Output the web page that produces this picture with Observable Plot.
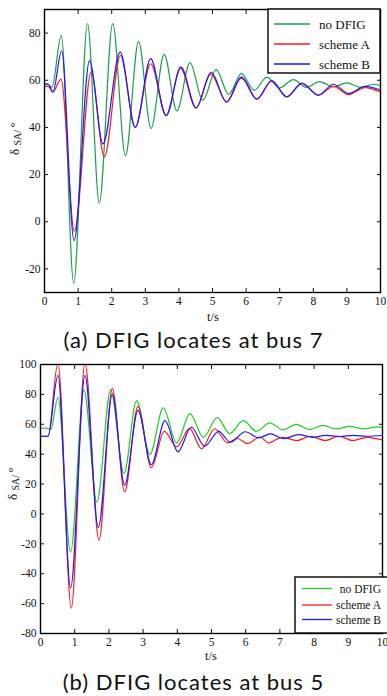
<!DOCTYPE html>
<html><head><meta charset="utf-8">
<script src="https://cdn.jsdelivr.net/npm/d3@7"></script>
<script src="https://cdn.jsdelivr.net/npm/@observablehq/plot@0.6"></script>
<style>
body{margin:0;background:#fff;width:387px;height:696px;overflow:hidden;position:relative}
.chart{position:absolute;left:0}
.cap{position:absolute;left:0;width:387px;text-align:center;font-family:Lato,"Open Sans",sans-serif;font-size:22px;letter-spacing:1px;line-height:26px;color:#111;white-space:nowrap}
</style></head><body>
<div id="a" class="chart" style="top:0"></div>
<div id="capA" class="cap" style="top:327px"></div>
<div id="b" class="chart" style="top:355px"></div>
<div id="capB" class="cap" style="top:669px"></div>
<script>
// ---- labels ----
const seriesNames = ["no DFIG", "scheme A", "scheme B"];
const captionA = "(a) DFIG locates at bus 7";
const captionB = "(b) DFIG locates at bus 5";
const xLabel = "t/s";
const xTicks = [0,1,2,3,4,5,6,7,8,9,10];
const yTicksA = [-20,0,20,40,60,80];
const yTicksB = [-80,-60,-40,-20,0,20,40,60,80,100];

// ---- (a) DFIG at bus 7 ----
const tGreenA = [0,0.12,0.22,0.5,0.87,1.28,1.63,2.03,2.41,2.8,3.17,3.56,3.94,4.33,4.71,5.11,5.48,5.86,6.24,6.62,6.99,7.41,7.79,8.18,8.6,9.0,9.4,9.8,10];
const greenA  = [58.5,58.2,57,79,-26,84,8,84,28,76.5,39.5,71,47,67.5,51.5,64.5,54,62.8,55.7,61.3,56.7,60.3,57,59.4,57.2,58.9,57,58.3,57.8];
const tRedA = [0,0.12,0.25,0.49,0.89,1.39,1.78,2.26,2.7,3.16,3.62,4.05,4.51,4.95,5.42,5.86,6.32,6.76,7.21,7.66,8.15,8.6,9.05,9.54,10];
const redA  = [57.5,57.3,55,60.5,-4,63.5,27.5,70.5,40,67,45,65,48.2,62.6,50.8,60.9,52,59.6,52.9,58.6,53.6,57.4,53.9,56.9,55];
const tBlueA = [0,0.12,0.25,0.51,0.88,1.34,1.74,2.25,2.7,3.16,3.62,4.06,4.51,4.96,5.42,5.86,6.32,6.76,7.21,7.66,8.15,8.6,9.05,9.54,10];
const blueA  = [58.5,58.2,55,72.5,-8,68.3,33,72,40,69.2,45,65.7,48.3,63.3,50.7,61.4,52,59.9,53,58.8,53.7,58.3,54.4,57.4,55.8];

// ---- (b) DFIG at bus 5 ----
const tGreenB = [0,0.2,0.3,0.51,0.88,1.27,1.65,2.05,2.44,2.81,3.2,3.59,3.98,4.37,4.76,5.17,5.53,5.93,6.31,6.7,7.09,7.48,7.87,8.26,8.65,9.04,9.45,9.85,10];
const greenB  = [57.5,57.3,56.5,78,-25.5,83,8,83,27,75.8,39.8,71,47.6,67.1,51.3,64.4,53.8,62.4,55.3,60.9,56.3,60,56.4,59.2,56.9,58.6,56.9,58.2,57.8];
const tRedB = [0,0.22,0.51,0.9,1.3,1.71,2.1,2.46,2.85,3.24,3.62,3.98,4.36,4.71,5.09,5.46,5.75,6.05,6.42,6.67,7.06,7.5,7.89,8.33,8.72,9.13,9.55,10];
const redB  = [52,52,101,-63,101,-17.5,84,14.7,72,31,55.3,45,57.1,43.6,57,47.6,50.5,47,51.5,47.6,51.3,49.1,52,49.1,52,49.1,51.3,49.5];
const tBlueB = [0,0.22,0.51,0.88,1.3,1.69,2.1,2.46,2.85,3.24,3.64,4.02,4.41,4.8,5.21,5.55,5.99,6.38,6.72,7.11,7.55,7.95,8.35,8.75,9.15,9.55,10];
const blueB  = [52,52,92.7,-49.5,92.7,-9,80,19.3,69.3,33,62.4,41.6,58,45.3,55.3,48,55,50.9,53.6,50.4,53.1,51.3,52.6,51.8,52.6,52,52.5];

const zip = (ts, vs) => ts.map((t, i) => ({t, v: vs[i]}));

function drawChart(cfg) {
  const serif = "'Liberation Serif','Times New Roman',serif";
  const lines = cfg.series.map((s, i) =>
    Plot.line(zip(s.t, s.v), {x: "t", y: "v", stroke: cfg.colors[i], strokeWidth: 1.2, curve: "monotone-x", clip: true}));
  const svg = Plot.plot({
    width: 387, height: cfg.height,
    marginLeft: cfg.ml, marginRight: cfg.mr, marginTop: cfg.mt, marginBottom: cfg.mb,
    x: {domain: [0, 10]},
    y: {domain: cfg.yDomain},
    style: {fontFamily: serif, fontSize: "11.5px", background: "transparent", overflow: "visible", color: "#111"},
    marks: [
      ...lines,
      Plot.axisX({ticks: xTicks, anchor: "bottom", tickSize: 0, tickPadding: 4, label: null, tickFormat: d => String(d)}),
      Plot.axisX({ticks: xTicks, anchor: "bottom", tickSize: -4, tickPadding: 0, label: null, tickFormat: () => ""}),
      Plot.axisX({ticks: xTicks, anchor: "top", tickSize: -4, tickPadding: 0, label: null, tickFormat: () => ""}),
      Plot.axisY({ticks: cfg.yTicks, anchor: "left", tickSize: 0, tickPadding: 4, label: null, tickFormat: d => String(d)}),
      Plot.axisY({ticks: cfg.yTicks, anchor: "left", tickSize: -4, tickPadding: 0, label: null, tickFormat: () => ""}),
      Plot.axisY({ticks: cfg.yTicks, anchor: "right", tickSize: -4, tickPadding: 0, label: null, tickFormat: () => ""}),
      Plot.frame({stroke: "#000", strokeWidth: 1.4})
    ]
  });
  const g = d3.select(svg).append("g").attr("font-family", serif).attr("fill", "#111");
  // x label
  g.append("text").attr("x", cfg.xLabelX).attr("y", cfg.xLabelY).attr("text-anchor", "middle").attr("font-size", 12.5).text(xLabel);
  // y label
  const yl = g.append("text").attr("transform", `translate(${cfg.yLabelX},${cfg.yLabelY}) rotate(-90)`).attr("text-anchor", "start").attr("font-size", 13);
  yl.append("tspan").text("δ ");
  yl.append("tspan").attr("font-size", 10).attr("dy", 2).text("SA");
  yl.append("tspan").attr("font-size", 10).text("/ ");
  yl.append("tspan").attr("dy", -2).text("°");
  // legend
  const L = cfg.legend;
  const lg = d3.select(svg).append("g");
  lg.append("rect").attr("x", L.x).attr("y", L.y).attr("width", L.w).attr("height", L.h)
    .attr("fill", "#fff").attr("stroke", "#000").attr("stroke-width", 1.4);
  seriesNames.forEach((name, i) => {
    const yy = L.rows[i];
    lg.append("line").attr("x1", L.lx1).attr("x2", L.lx2).attr("y1", yy).attr("y2", yy)
      .attr("stroke", cfg.colors[i]).attr("stroke-width", 1.3);
    lg.append("text").attr("x", L.tx).attr("y", yy).attr("dy", "0.35em").attr("text-anchor", L.anchor)
      .attr("font-family", serif).attr("font-size", L.fs).attr("fill", "#111").text(name);
  });
  document.getElementById(cfg.id).appendChild(svg);
}

drawChart({
  id: "a", height: 325, ml: 44, mr: 7, mt: 9, mb: 33, yDomain: [-30, 90], yTicks: yTicksA,
  colors: ["#1f9e4a", "#ff1a1a", "#1a1aff"],
  series: [{t: tGreenA, v: greenA}, {t: tRedA, v: redA}, {t: tBlueA, v: blueA}],
  xLabelX: 213, xLabelY: 320.5, yLabelX: 19, yLabelY: 155,
  legend: {x: 268, y: 9, w: 112, h: 64, rows: [24, 44, 64], lx1: 274, lx2: 310, tx: 319, anchor: "start", fs: 13}
});
drawChart({
  id: "b", height: 310, ml: 40, mr: 5, mt: 9, mb: 32, yDomain: [-80, 100], yTicks: yTicksB,
  colors: ["#22cc22", "#ff1a1a", "#1a1aff"],
  series: [{t: tGreenB, v: greenB}, {t: tRedB, v: redB}, {t: tBlueB, v: blueB}],
  xLabelX: 211, xLabelY: 304.5, yLabelX: 17, yLabelY: 145,
  legend: {x: 295, y: 222, w: 95, h: 56, rows: [233.5, 250, 264.5], lx1: 302, lx2: 332, tx: 381, anchor: "end", fs: 11.5}
});
document.getElementById("capA").textContent = captionA;
document.getElementById("capB").textContent = captionB;
</script>
</body></html>
